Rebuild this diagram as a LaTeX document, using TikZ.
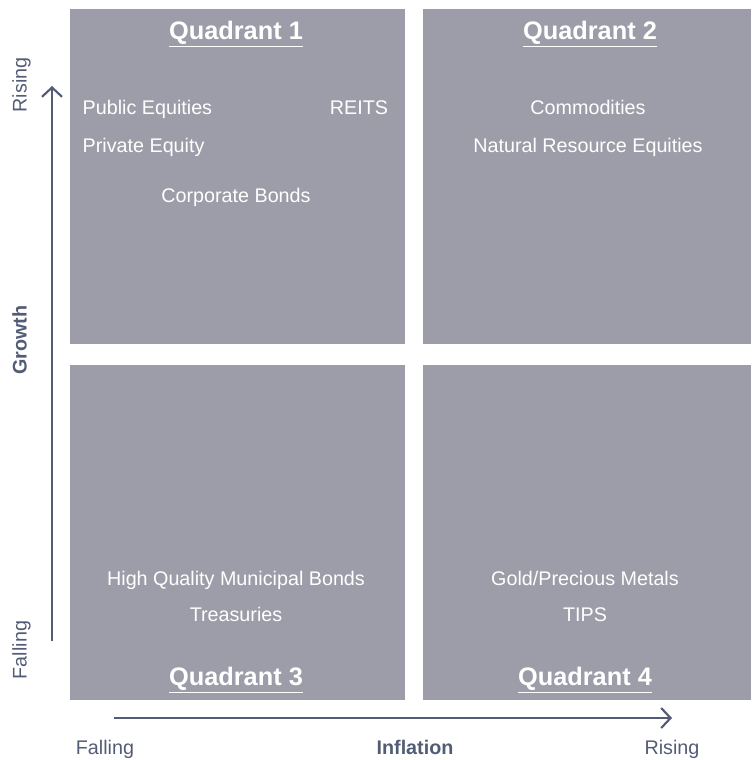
\documentclass[tikz,border=0pt]{standalone}
\usepackage{fontspec}
\setmainfont{Liberation Sans}
\usetikzlibrary{arrows.meta}
\definecolor{quadgray}{HTML}{9D9DA9}
\definecolor{axisblue}{HTML}{535C76}
\tikzset{
  quadbox/.style={fill=quadgray},
  title/.style={text=white, font=\fontsize{19}{22}\selectfont\bfseries},
  asset/.style={text=white, font=\fontsize{14.8}{18}\selectfont, text height=0.75em, text depth=0.22em},
  axis/.style={draw=axisblue, line width=1.9pt, -{Straight Barb[length=7pt,width=15pt,line width=1.6pt]}},
  axislabel/.style={text=axisblue, font=\fontsize{14.8}{17}\selectfont, text height=0.75em, text depth=0.22em},
  axisname/.style={axislabel, font=\fontsize{14.8}{17}\selectfont\bfseries}
}

\begin{document}
\begin{tikzpicture}[x=0.75pt,y=-0.75pt]
    \useasboundingbox (0,0) rectangle (751,760);

    % the four quadrants
    \fill[quadbox] (70,9) rectangle (405,344);
    \fill[quadbox] (423,9) rectangle (751,344);
    \fill[quadbox] (70,365) rectangle (405,700);
    \fill[quadbox] (423,365) rectangle (751,700);

    \node[title] (qone) at (236,34) {\underline{Quadrant 1}};
    \node[asset, anchor=west] (pubeq) at (78,111) {Public Equities};
    \node[asset] (reits) at (359,111) {REITS};
    \node[asset, anchor=west] (priveq) at (78,149) {Private Equity};
    \node[asset] (corpbd) at (236,199) {Corporate Bonds};

    \node[title] (qtwo) at (590,34) {\underline{Quadrant 2}};
    \node[asset] (commod) at (588,111) {Commodities};
    \node[asset] (natres) at (588,149) {Natural Resource Equities};

    \node[asset] (munibd) at (236,582) {High Quality Municipal Bonds};
    \node[asset] (treas) at (236,618) {Treasuries};
    \node[title] (qthree) at (236,680) {\underline{Quadrant 3}};

    \node[asset] (gold) at (585,582) {Gold/Precious Metals};
    \node[asset] (tips) at (585,618) {TIPS};
    \node[title] (qfour) at (585,680) {\underline{Quadrant 4}};

    % growth axis
    \coordinate (gfrom) at (52,641);
    \coordinate (gto) at (52,86);
    \draw[axis] (gfrom) -- (gto);
    \node[axislabel, rotate=90] (grise) at (23,85) {Rising};
    \node[axisname, rotate=90] (gname) at (23,340) {Growth};
    \node[axislabel, rotate=90] (gfall) at (23,650) {Falling};

    % inflation axis
    \coordinate (ifrom) at (114,718);
    \coordinate (ito) at (672,718);
    \draw[axis] (ifrom) -- (ito);
    \node[axislabel] (ifall) at (105,751) {Falling};
    \node[axisname] (iname) at (415,751) {Inflation};
    \node[axislabel] (irise) at (672,751) {Rising};
\end{tikzpicture}
\end{document}
